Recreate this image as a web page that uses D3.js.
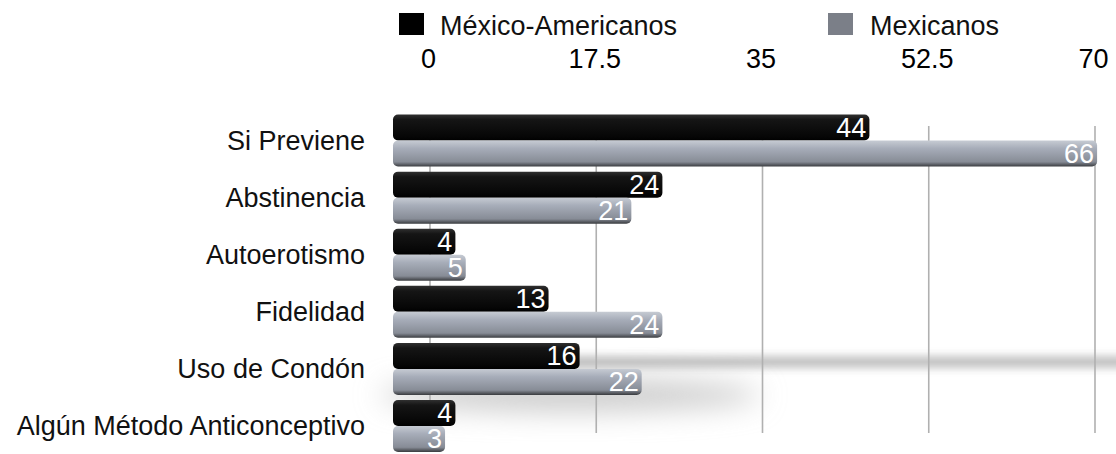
<!DOCTYPE html>
<html>
<head>
<meta charset="utf-8">
<script src="https://cdn.jsdelivr.net/npm/d3@7"></script>
<style>
  body { margin: 0; background: #fff; }
  text { font-family: "Liberation Sans", Arial, sans-serif; }
</style>
</head>
<body>
<div id="chart"></div>
<script>
/* data */
var categories = ["Si Previene", "Abstinencia", "Autoerotismo", "Fidelidad", "Uso de Condón", "Algún Método Anticonceptivo"];
var seriesNames = ["México-Americanos", "Mexicanos"];
var mexAmericanos = [44, 24, 4, 13, 16, 4];
var mexicanos = [66, 21, 5, 24, 22, 3];
var tickValues = [0, 17.5, 35, 52.5, 70];

var width = 1116, height = 454;

var svg = d3.select("#chart").append("svg")
  .attr("width", width)
  .attr("height", height);

var defs = svg.append("defs");

var gBlack = defs.append("linearGradient").attr("id", "gBlack")
  .attr("x1", 0).attr("y1", 0).attr("x2", 0).attr("y2", 1);
gBlack.append("stop").attr("offset", "0%").attr("stop-color", "#303030");
gBlack.append("stop").attr("offset", "20%").attr("stop-color", "#151515");
gBlack.append("stop").attr("offset", "85%").attr("stop-color", "#060606");
gBlack.append("stop").attr("offset", "100%").attr("stop-color", "#000");

var gGray = defs.append("linearGradient").attr("id", "gGray")
  .attr("x1", 0).attr("y1", 0).attr("x2", 0).attr("y2", 1);
gGray.append("stop").attr("offset", "0%").attr("stop-color", "#c6cbd3");
gGray.append("stop").attr("offset", "30%").attr("stop-color", "#a7adb9");
gGray.append("stop").attr("offset", "82%").attr("stop-color", "#878c96");
gGray.append("stop").attr("offset", "100%").attr("stop-color", "#3a3c40");

var blur = defs.append("filter").attr("id", "blur")
  .attr("x", "-20%").attr("y", "-200%").attr("width", "140%").attr("height", "500%");
blur.append("feGaussianBlur").attr("stdDeviation", 5);
var blurWide = defs.append("filter").attr("id", "blurWide")
  .attr("x", "-50%").attr("y", "-100%").attr("width", "200%").attr("height", "300%");
blurWide.append("feGaussianBlur").attr("stdDeviation", 14);

// back plane scale (grid) and front scale (bars)
var xGrid = d3.scaleLinear().domain([0, 70]).range([430, 1095]);
var x = d3.scaleLinear().domain([0, 70]).range([414, 1138.5]);
var barBase = x(0) - 21;

var y = d3.scaleBand().domain(categories).range([112, 454.5]).padding(0);

// floor shadows
svg.append("ellipse")
  .attr("cx", 570).attr("cy", 395)
  .attr("rx", 190).attr("ry", 16)
  .attr("fill", "#cacaca")
  .attr("filter", "url(#blurWide)");
svg.append("rect")
  .attr("x", 560).attr("y", 357)
  .attr("width", 600).attr("height", 10)
  .attr("fill", "#a8a8a8")
  .attr("opacity", 0.85)
  .attr("filter", "url(#blur)");

// grid lines
svg.append("g").selectAll("line")
  .data(tickValues)
  .join("line")
  .attr("x1", function(d) { return xGrid(d); })
  .attr("x2", function(d) { return xGrid(d); })
  .attr("y1", 126)
  .attr("y2", 433)
  .attr("stroke", "#b0b0b0")
  .attr("stroke-width", 1.6);

// top axis labels
var axis = d3.axisTop(xGrid).tickValues(tickValues).tickSize(0).tickPadding(0)
  .tickFormat(function(d) { return String(d); });
var ax = svg.append("g").attr("transform", "translate(-2,68)").call(axis);
ax.select(".domain").remove();
ax.selectAll("text")
  .attr("font-size", 27)
  .attr("fill", "#000")
  .style("font-family", "'Liberation Sans', Arial, sans-serif");

// legend
var legendX = [399, 828];
var legend = svg.append("g").selectAll("g")
  .data(seriesNames)
  .join("g")
  .attr("transform", function(d, i) { return "translate(" + legendX[i] + ",13)"; });
legend.append("rect")
  .attr("width", 25).attr("height", 22)
  .attr("fill", function(d, i) { return i === 0 ? "#000" : "#7b7f88"; });
legend.append("text")
  .attr("x", function(d, i) { return i === 0 ? 41 : 42; })
  .attr("y", 22)
  .attr("font-size", 27)
  .attr("fill", "#111")
  .text(function(d) { return d; });

// category labels
svg.append("g").selectAll("text")
  .data(categories)
  .join("text")
  .attr("x", 365)
  .attr("y", function(d) { return y(d) + y.bandwidth() / 2; })
  .attr("dy", "0.35em")
  .attr("text-anchor", "end")
  .attr("font-size", 27)
  .attr("fill", "#111")
  .text(function(d) { return d; });

// bars
var rows = categories.map(function(c, i) {
  return { cat: c, a: mexAmericanos[i], b: mexicanos[i] };
});
var barH = 26;
var group = svg.append("g").selectAll("g")
  .data(rows)
  .join("g")
  .attr("transform", function(d) { return "translate(0," + (y(d.cat) + y.bandwidth() / 2) + ")"; });

function drawBar(sel, key, offset, fill) {
  sel.append("rect")
    .attr("x", barBase)
    .attr("y", offset)
    .attr("width", function(d) { return x(d[key]) - barBase; })
    .attr("height", barH)
    .attr("rx", 5)
    .attr("fill", fill);
  sel.append("text")
    .attr("x", function(d) { return x(d[key]) - 3; })
    .attr("y", offset + barH / 2)
    .attr("dy", "0.34em")
    .attr("text-anchor", "end")
    .attr("font-size", 27)
    .attr("fill", "#fff")
    .text(function(d) { return d[key]; });
}

drawBar(group, "a", -barH, "url(#gBlack)");
drawBar(group, "b", 0, "url(#gGray)");
</script>
</body>
</html>
